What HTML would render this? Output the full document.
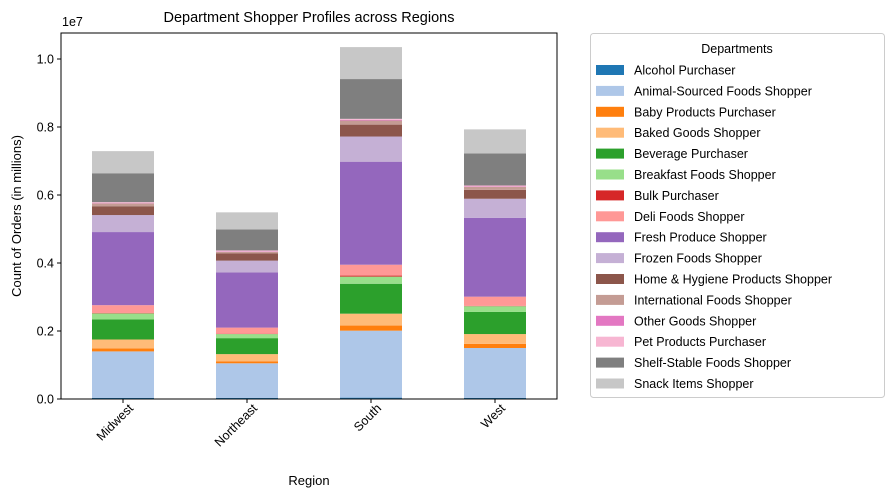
<!DOCTYPE html>
<html><head><meta charset="utf-8"><style>
body{margin:0;background:#fff;}
svg{display:block;font-family:"Liberation Sans","DejaVu Sans",sans-serif;}
</style></head><body>
<svg id="chart" width="893" height="497" viewBox="0 0 893 497" xmlns="http://www.w3.org/2000/svg">
<text x="309" y="22" font-size="14.5" text-anchor="middle">Department Shopper Profiles across Regions</text>
<g id="bars"></g>
<g id="axes"></g>
<text transform="translate(21,216) rotate(-90)" font-size="13" text-anchor="middle">Count of Orders (in millions)</text>
<text x="309" y="485" font-size="13" text-anchor="middle">Region</text>
<text x="62" y="26" font-size="12.5">1e7</text>
<g id="legend"></g>
</svg>
<script>
const categories = ["Midwest","Northeast","South","West"];
const departments = ["Alcohol Purchaser","Animal-Sourced Foods Shopper","Baby Products Purchaser","Baked Goods Shopper","Beverage Purchaser","Breakfast Foods Shopper","Bulk Purchaser","Deli Foods Shopper","Fresh Produce Shopper","Frozen Foods Shopper","Home & Hygiene Products Shopper","International Foods Shopper","Other Goods Shopper","Pet Products Purchaser","Shelf-Stable Foods Shopper","Snack Items Shopper"];
const colors = ["#1f77b4","#aec7e8","#ff7f0e","#ffbb78","#2ca02c","#98df8a","#d62728","#ff9896","#9467bd","#c5b0d5","#8c564b","#c49c94","#e377c2","#f7b6d2","#7f7f7f","#c7c7c7"];
// values in millions of orders, per department: [Midwest, Northeast, South, West]
const alcohol = [0.03,0.03,0.04,0.03];
const animal = [1.37,1.02,1.97,1.47];
const baby = [0.09,0.06,0.15,0.12];
const baked = [0.26,0.21,0.35,0.29];
const beverage = [0.59,0.47,0.88,0.65];
const breakfast = [0.18,0.12,0.21,0.17];
const bulk = [0.01,0.01,0.03,0.01];
const deli = [0.23,0.18,0.32,0.27];
const fresh = [2.15,1.62,3.03,2.32];
const frozen = [0.50,0.35,0.74,0.56];
const home = [0.26,0.21,0.35,0.26];
const intl = [0.08,0.05,0.12,0.09];
const other = [0.01,0.01,0.02,0.01];
const pet = [0.03,0.03,0.03,0.03];
const shelf = [0.85,0.62,1.17,0.94];
const snack = [0.65,0.50,0.94,0.71];
const yTicks = ["0.0","0.2","0.4","0.6","0.8","1.0"];
const series = [alcohol,animal,baby,baked,beverage,breakfast,bulk,deli,fresh,frozen,home,intl,other,pet,shelf,snack];

const NS="http://www.w3.org/2000/svg";
const L=61,R=557,T=33,B=399;
const yScale=v=>B-v*34; // millions -> px (1e7 = 340px)
const band=(R-L)/categories.length;
const xCenter=i=>L+band*(i+0.5);
function mk(tag,attrs,parent){const e=document.createElementNS(NS,tag);for(const k in attrs)e.setAttribute(k,attrs[k]);parent.appendChild(e);return e;}
const bars=document.getElementById('bars');
categories.forEach((c,i)=>{
  let acc=0;
  series.forEach((s,j)=>{
    const y0=yScale(acc),y1=yScale(acc+s[i]);acc+=s[i];
    const r=mk('rect',{x:xCenter(i)-band*0.25,y:y1,width:band*0.5,height:Math.max(0,y0-y1),fill:colors[j]},bars);
    
    
  });
});
const axes=document.getElementById('axes');
const frame=mk('rect',{x:L,y:T,width:R-L,height:B-T,fill:'none',stroke:'#000','stroke-width':1},axes);


yTicks.forEach(t=>{
  const y=yScale(parseFloat(t)*10);
  mk('line',{x1:L-4,x2:L,y1:y,y2:y,stroke:'#000'},axes);
  const tx=mk('text',{x:L-7,y:y+4.5,'font-size':12.5,'text-anchor':'end'},axes);
  tx.textContent=t;
  
  
});
categories.forEach((c,i)=>{
  const x=xCenter(i);
  mk('line',{x1:x,x2:x,y1:B,y2:B+4,stroke:'#000'},axes);
  const tx=mk('text',{x:0,y:0,'font-size':12.5,'text-anchor':'end',transform:`translate(${x+11},${B+10}) rotate(-45)`},axes);
  tx.textContent=c;
  
  
});
const lg=document.getElementById('legend');
const box=mk('rect',{x:590.5,y:33.5,width:294,height:364,rx:3,fill:'#fff',stroke:'#ccc'},lg);


const lt=mk('text',{x:737,y:53,'font-size':12.5,'text-anchor':'middle'},lg);
lt.textContent='Departments';


departments.forEach((d,j)=>{
  const y=70+j*20.9;
  const g=mk('g',{},lg);
  
  
  mk('rect',{x:596,y:y-5,width:28,height:10,fill:colors[j]},g);
  const t=mk('text',{x:634,y:y+4.5,'font-size':12.5},g);
  t.textContent=d;
});
</script>
</body></html>
